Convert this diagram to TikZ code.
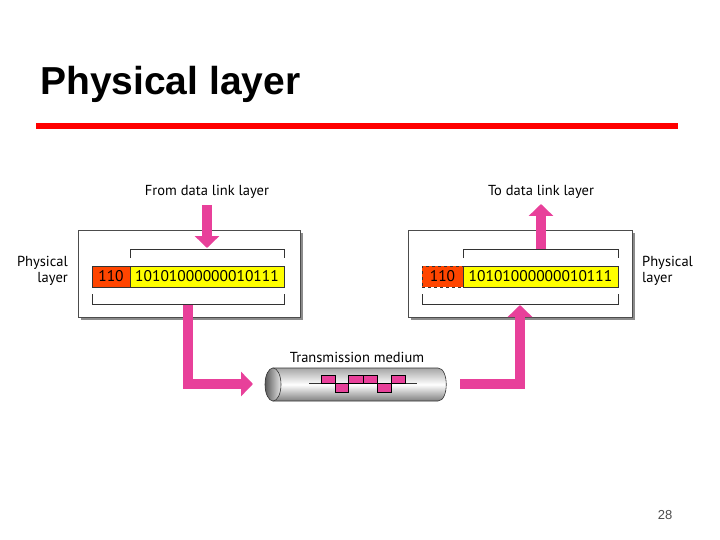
\documentclass[tikz,border=0pt]{standalone}
\usepackage{fontspec}
\setmainfont{Liberation Sans}
\newfontfamily\lab{PT Sans}
\usetikzlibrary{arrows.meta,shapes.geometric,shadows}
\definecolor{pk}{HTML}{E8409A}
\definecolor{rd}{HTML}{FF4500}
\definecolor{yl}{HTML}{FFFF00}
\begin{document}
\begin{tikzpicture}[x=1pt,y=-1pt,
  lbl/.style={font=\lab\fontsize{14.5}{16}\selectfont,inner sep=0},
  box/.style={draw=black!70,fill=white,line width=0.8pt,minimum width=#1,minimum height=87pt,inner sep=0,
    drop shadow={shadow xshift=3pt,shadow yshift=-3pt,fill=black!45,opacity=1}},
  bar/.style={draw=black!80,line width=0.6pt,minimum height=21pt,inner sep=0,font=\lab\fontsize{15.5}{16}\selectfont},
  brk/.style={black!80,line width=0.8pt},
  pa/.style={pk,line width=10pt,-{Triangle[width=24pt,length=12pt]}}]
\useasboundingbox (0,0) rectangle (720,540);
\node[anchor=base west,font=\bfseries\fontsize{39}{44}\selectfont,inner sep=0] (title) at (40,95) {Physical layer};
\draw[red,line width=6pt] (36,126) coordinate (l1) -- (678,126) coordinate (l2);
% left box
\node[box=222pt] (LB) at (189,273.5) {};
\node[bar,fill=rd,minimum width=38pt] (LR) at (111,276.5) {110};
\node[bar,fill=yl,minimum width=154pt] (LY) at (207,276.5) {10101000000010111};
\draw[brk] (130,258) -- (130,249) -- (284,249) -- (284,258);
\draw[brk] (92,294) -- (92,304) -- (284,304) -- (284,294);
\node[lbl] (from) at (207,192) {From data link layer};
\coordinate (fa) at (207,205);
\coordinate (fb) at (207,248);
\draw[pa] (fa) -- (fb);
\node[lbl,align=right,anchor=east] (pl1) at (68,271) {Physical\\layer};
% right box
\node[box=224pt] (RB) at (520,273.5) {};
\node[bar,fill=rd,minimum width=41pt,dashed] (RR) at (442.5,276.5) {110};
\node[bar,fill=yl,minimum width=155pt] (RY) at (540.5,276.5) {10101000000010111};
\draw[brk] (463,258) -- (463,249) -- (618,249) -- (618,258);
\draw[brk] (422,294) -- (422,304) -- (618,304) -- (618,294);
\node[lbl] (to) at (541,192) {To data link layer};
\coordinate (ta) at (541,249);
\coordinate (tb) at (541,204);
\draw[pa] (ta) -- (tb);
\node[lbl,align=left,anchor=west] (pl2) at (642,271) {Physical\\layer};
% medium
\node[lbl] (tm) at (357,357) {Transmission medium};
\shade[top color=black!35,bottom color=black!50,middle color=white,draw=black!80,line width=0.6pt]
  (273,368) -- (438,368) .. controls (449,368) and (449,401) .. (438,401) -- (273,401) -- cycle;
\shade[left color=black!65,right color=black!10,draw=black!80,line width=0.6pt] (273,384.5) ellipse[x radius=8,y radius=16.5];
\coordinate (cyl) at (357,384.5);
\draw[black!80,line width=0.6pt] (309,383) -- (417,383);
\foreach \a/\b in {321/335,348/363,363/377,391/405}
  \draw[fill=pk,line width=0.6pt] (\a,375) rectangle (\b,383);
\foreach \a/\b in {335/348,377/391}
  \draw[fill=pk,line width=0.6pt] (\a,383) rectangle (\b,392);
% connectors
\coordinate (d1) at (188,305);
\coordinate (d2) at (253,384);
\draw[pa] (d1) |- (d2);
\coordinate (u1) at (460,384);
\coordinate (u2) at (520,305);
\draw[pa] (u1) -| (u2);
\node[font=\fontsize{13}{14}\selectfont,text=black!70] (pg) at (665,515) {28};
\end{tikzpicture}
\end{document}
